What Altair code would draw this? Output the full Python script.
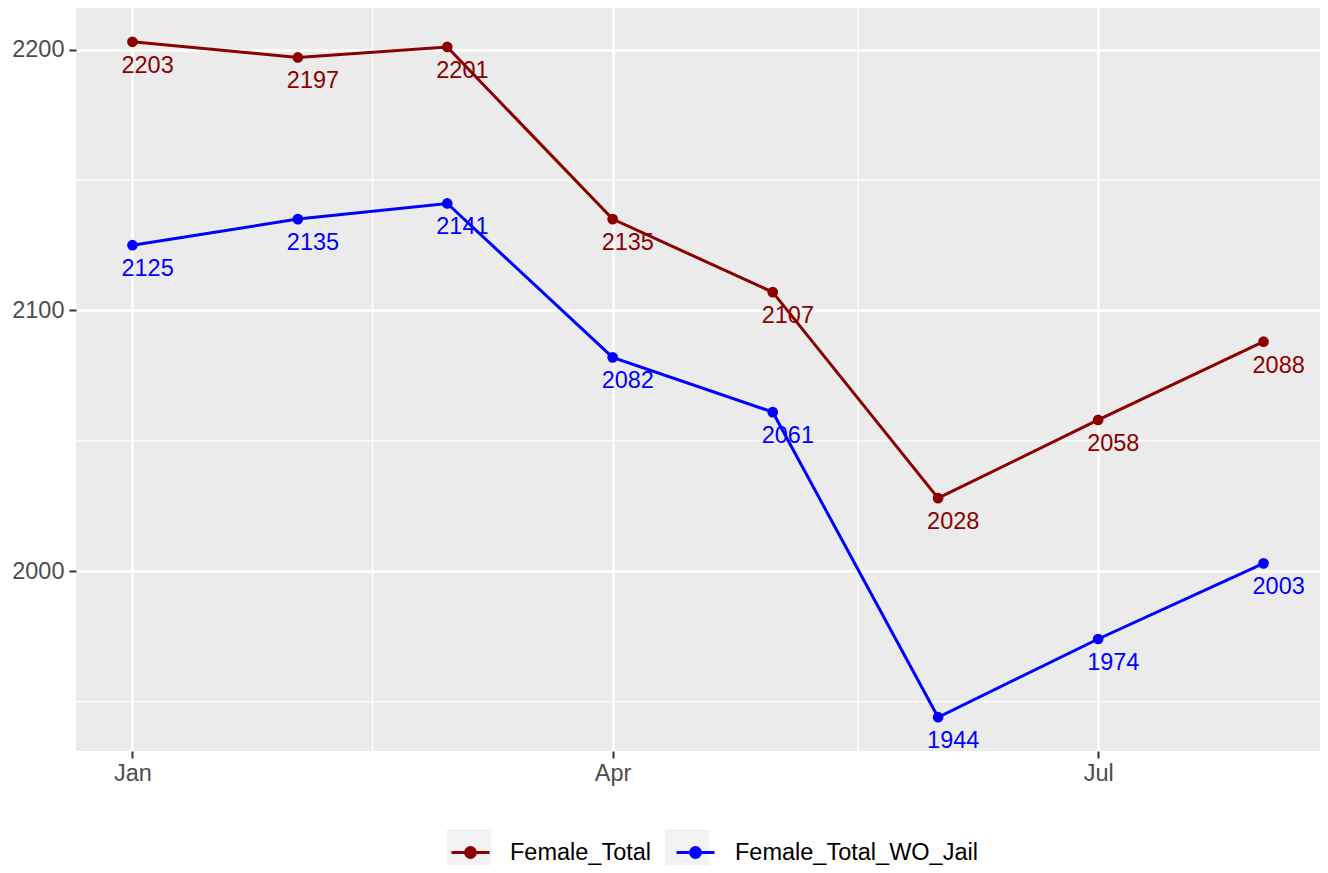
import altair as alt
import pandas as pd

months = ["2019-01-01T00:00:00", "2019-02-01T00:00:00", "2019-03-01T00:00:00",
          "2019-04-01T00:00:00", "2019-05-01T00:00:00", "2019-06-01T00:00:00",
          "2019-07-01T00:00:00", "2019-08-01T00:00:00"]
female_total = [2203, 2197, 2201, 2135, 2107, 2028, 2058, 2088]
female_total_wo_jail = [2125, 2135, 2141, 2082, 2061, 1944, 1974, 2003]
series_names = ["Female_Total", "Female_Total_WO_Jail"]
series_colors = ["#8B0000", "#0000FF"]
minor_x = ["2019-02-15T00:00:00", "2019-05-17T00:00:00"]
minor_y = [1950, 2050, 2150]
y_ticks = [2000, 2100, 2200]

ZW = "\u200b"
key_names = [s + ZW for s in series_names]

rows = []
for m, a, b in zip(months, female_total, female_total_wo_jail):
    rows.append({"date": m, "series": series_names[0], "keyname": key_names[0], "value": a})
    rows.append({"date": m, "series": series_names[1], "keyname": key_names[1], "value": b})
df = pd.DataFrame(rows)
df_mx = pd.DataFrame({"date": minor_x})
df_my = pd.DataFrame({"value": minor_y})

FONT = "Liberation Sans"
FS = 23.5
xscale = alt.Scale(domain=[alt.DateTime(year=2018, month=12, date=21, hours=10),
                           alt.DateTime(year=2019, month=8, date=11, hours=14)])
yscale = alt.Scale(domain=[1931.05, 2215.95], zero=False, nice=False)

xaxis = alt.Axis(values=[alt.DateTime(year=2019, month=1, date=1),
                         alt.DateTime(year=2019, month=4, date=1),
                         alt.DateTime(year=2019, month=7, date=1)],
                 format="%b", title=None, domain=False, grid=True,
                 gridColor="white", gridWidth=2.6, tickColor="#333333",
                 tickSize=7, tickWidth=2, labelFontSize=FS, labelColor="#4D4D4D",
                 labelFont=FONT, labelPadding=3)
yaxis = alt.Axis(values=y_ticks, format="d", title=None, domain=False, grid=True,
                 gridColor="white", gridWidth=2.6, tickColor="#333333",
                 tickSize=7, tickWidth=2, labelFontSize=FS, labelColor="#4D4D4D",
                 labelFont=FONT, labelPadding=5)

X = alt.X("date:T", scale=xscale, axis=xaxis)
Y = alt.Y("value:Q", scale=yscale, axis=yaxis)

disc = "".join(
    f"M-{r},0A{r},{r},0,1,0,{r},0A{r},{r},0,1,0,-{r},0Z" for r in [0.05, 0.1, 0.15, 0.2, 0.25]
)
sym_path = "M-0.95,0H0.95" + disc

color_leg = alt.Color("series:N",
                      scale=alt.Scale(domain=series_names, range=series_colors),
                      legend=alt.Legend(title=None, orient="none", direction="horizontal",
                                        legendX=373, legendY=823, zindex=2,
                                        symbolType=sym_path, symbolSize=1600,
                                        symbolStrokeWidth=2.8, labelFontSize=FS,
                                        labelFont=FONT, labelColor="black", labelLimit=0,
                                        labelOffset=18, columnPadding=18, padding=0))
color_noleg = alt.Color("series:N",
                        scale=alt.Scale(domain=series_names, range=series_colors),
                        legend=None)
key_bg = alt.Shape("keyname:N",
                   scale=alt.Scale(domain=key_names, range=["square", "square"]),
                   legend=alt.Legend(title=None, orient="none", direction="horizontal",
                                     legendX=371, legendY=821, zindex=1,
                                     symbolSize=1936, symbolFillColor="#F2F2F2",
                                     symbolStrokeColor="#F2F2F2", symbolStrokeWidth=0,
                                     labelFontSize=FS, labelFont=FONT,
                                     labelColor="rgba(0,0,0,0)", labelLimit=0,
                                     labelOffset=16, columnPadding=16, padding=0))

rules_x = alt.Chart(df_mx).mark_rule(color="white", strokeWidth=1.3).encode(
    x=alt.X("date:T", scale=xscale, axis=xaxis))
rules_y = alt.Chart(df_my).mark_rule(color="white", strokeWidth=1.3).encode(
    y=alt.Y("value:Q", scale=yscale, axis=yaxis))

keys = alt.Chart(df).mark_point(
    size=0, filled=True, color="#F2F2F2", opacity=1).encode(x=X, y=Y, shape=key_bg)
line = alt.Chart(df).mark_line(strokeWidth=3).encode(x=X, y=Y, color=color_leg)
points = alt.Chart(df).mark_circle(size=115, opacity=1).encode(x=X, y=Y, color=color_noleg)
labels = alt.Chart(df).mark_text(align="left", baseline="middle", dx=-11, dy=24,
                                 fontSize=FS, font=FONT).encode(
    x=X, y=Y, text=alt.Text("value:Q", format="d"), color=color_noleg)

chart = alt.layer(rules_x, rules_y, keys, line, points, labels).properties(
    width=1244, height=743,
    padding={"left": 68, "top": 0, "right": 0, "bottom": 114},
    autosize="none",
    background="white",
).configure_view(fill="#EBEBEB", stroke=None)

chart.save("out.html", embed_options={"renderer": "svg", "actions": False})
